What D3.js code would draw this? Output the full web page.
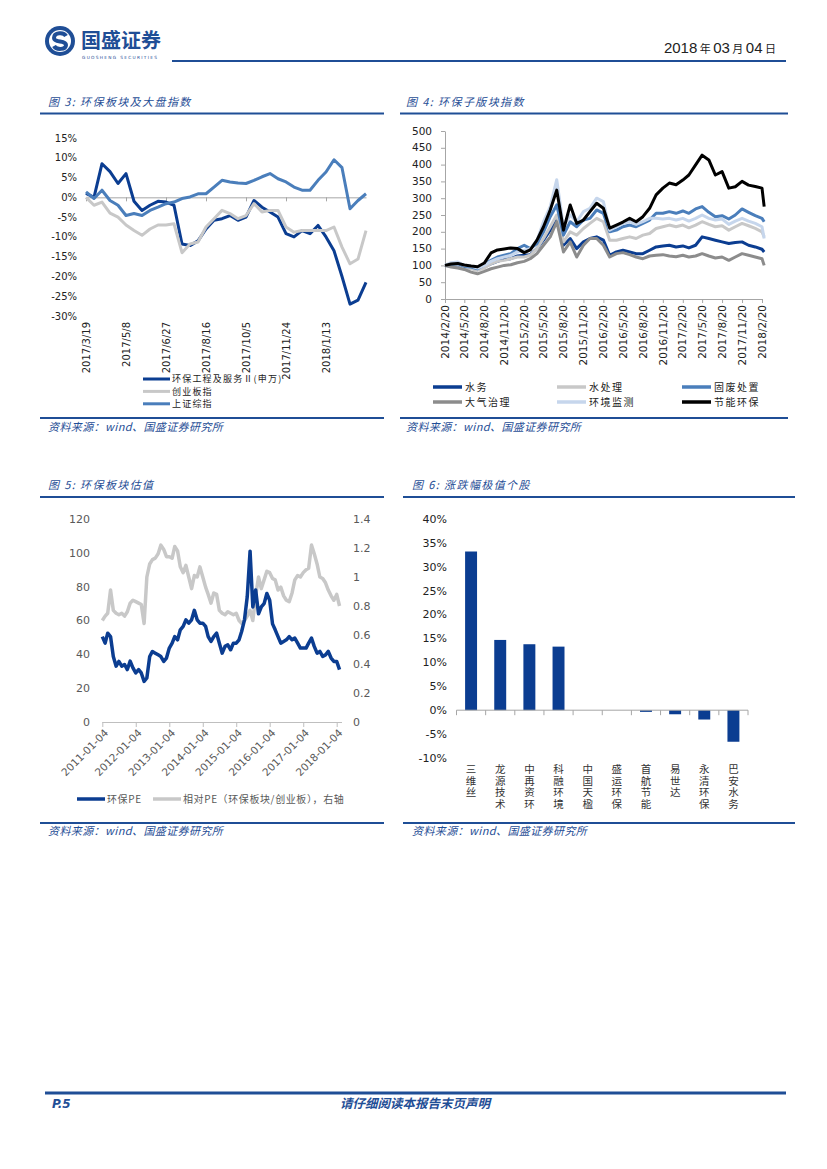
<!DOCTYPE html>
<html>
<head>
<meta charset="utf-8">
<script src="https://cdn.jsdelivr.net/npm/d3@7"></script>
<style>
body { margin: 0; background: #fff; }
</style>
</head>
<body>
<svg id="page" width="827" height="1169"></svg>
<script>
// ---------- 图3：环保板块及大盘指数（每10天一个点，起点 2017-03-19） ----------
const c3Start = "2017-03-19"
const c3Step = 10
const c3Ticks = ["2017-03-19", "2017-05-08", "2017-06-27", "2017-08-16", "2017-10-05", "2017-11-24", "2018-01-13"]
const c3YTicks = [15, 10, 5, 0, -5, -10, -15, -20, -25, -30]
const c3Names = ["环保工程及服务Ⅱ(申万)", "创业板指", "上证综指"]
const c3Env = [1, 0, 8.5, 6.5, 3.5, 6, -1, -3.3, -2, -1, -1.2, -2, -11.8, -12.2, -11, -8, -5.8, -5.4,
  -4.6, -5.8, -5, -0.8, -2.5, -3.7, -5, -9.2, -10, -8.4, -9.2, -7.1, -10, -13.5, -20, -27, -26, -21.5]
const c3Cyb = [0, -2, -1.2, -4, -5, -7, -8.4, -9.6, -8, -7, -7, -6.7, -14, -11.8, -11.3, -7.5, -5.4, -3.3,
  -4.1, -5.4, -4.6, -1.6, -3.7, -3.3, -3.3, -7.5, -8.8, -8.4, -8.4, -8.4, -8.4, -7.5, -12.6, -16.8, -15.6, -8.4]
const c3Sh = [1.4, -0.3, 1.8, -0.8, -2, -4.6, -4.1, -4.6, -3.3, -2.5, -1.6, -1.2, -0.3, 0.1, 0.9, 0.9, 2.6, 4.3,
  3.9, 3.6, 3.5, 4.3, 5.2, 6, 4.7, 3.9, 2.6, 1.8, 1.8, 4.3, 6.4, 9.5, 7.5, -2.9, -0.8, 0.9]

// ---------- 图4：环保子版块指数（月度点，最后一点 2018-03-02） ----------
const c4Start = "2014-02-20"
const c4Last = "2018-03-02"
const c4Ticks = ["2014-02-20", "2014-05-20", "2014-08-20", "2014-11-20", "2015-02-20", "2015-05-20", "2015-08-20",
  "2015-11-20", "2016-02-20", "2016-05-20", "2016-08-20", "2016-11-20", "2017-02-20", "2017-05-20", "2017-08-20",
  "2017-11-20", "2018-02-20"]
const c4YTicks = [0, 50, 100, 150, 200, 250, 300, 350, 400, 450, 500]
const c4Names = ["水务", "水处理", "固废处置", "大气治理", "环境监测", "节能环保"]
const c4Water = [100, 98, 102, 95, 92, 88, 95, 105, 112, 118, 120, 128, 130, 132, 150, 175, 205, 235, 160, 180,
  150, 170, 180, 185, 175, 130, 140, 145, 140, 135, 135, 145, 155, 158, 160, 155, 158, 152, 160, 185,
  180, 175, 170, 165, 168, 170, 160, 155, 148, 140]
const c4Treat = [100, 100, 103, 95, 90, 85, 92, 105, 112, 115, 120, 125, 125, 130, 150, 180, 215, 250, 170, 200,
  190, 210, 225, 240, 230, 175, 175, 180, 185, 180, 190, 195, 210, 215, 220, 215, 220, 212, 220, 230,
  222, 215, 218, 205, 215, 225, 218, 210, 200, 185]
const c4Solid = [100, 103, 105, 97, 95, 90, 102, 115, 125, 130, 135, 150, 160, 150, 165, 200, 245, 280, 190, 230,
  215, 235, 240, 265, 255, 200, 205, 215, 220, 215, 225, 235, 255, 255, 260, 255, 262, 255, 268, 275,
  258, 245, 248, 238, 250, 268, 258, 248, 240, 230]
const c4Air = [100, 95, 92, 88, 80, 75, 82, 90, 95, 100, 102, 108, 112, 120, 135, 160, 185, 230, 140, 170,
  125, 160, 180, 180, 160, 125, 135, 138, 132, 125, 120, 128, 130, 132, 128, 126, 130, 125, 128, 135,
  128, 122, 125, 115, 125, 135, 130, 125, 120, 100]
const c4Monitor = [100, 108, 110, 100, 98, 92, 100, 112, 120, 125, 130, 140, 145, 150, 175, 230, 275, 355, 215, 250,
  230, 260, 270, 300, 290, 205, 215, 225, 230, 222, 230, 240, 240, 238, 240, 235, 240, 232, 240, 250,
  240, 235, 238, 222, 232, 240, 232, 225, 215, 180]
const c4Energy = [100, 104, 106, 101, 98, 96, 107, 137, 146, 149, 152, 150, 138, 146, 175, 215, 265, 324, 205, 280,
  225, 235, 260, 285, 270, 211, 220, 229, 240, 230, 245, 270, 310, 330, 345, 340, 354, 369, 399, 428,
  414, 369, 379, 330, 334, 350, 339, 335, 330, 275]

// ---------- 图5：环保板块估值（月度点，起点 2011-01-04） ----------
const c5Start = "2011-01-04"
const c5Ticks = ["2011-01-04", "2012-01-04", "2013-01-04", "2014-01-04", "2015-01-04", "2016-01-04", "2017-01-04", "2018-01-04"]
const c5LeftTicks = [0, 20, 40, 60, 80, 100, 120]
const c5RightTicks = [0, 0.2, 0.4, 0.6, 0.8, 1, 1.2, 1.4]
const c5Names = ["环保PE", "相对PE（环保板块/创业板），右轴"]
const c5PE = [50.5, 46.6, 52.5, 50.5, 38.7, 33, 35.8, 33, 34, 31, 36, 32,
  29, 31, 29, 24, 26, 38.7, 41.7, 40.7, 39.7, 38.7, 35.8, 37.8,
  43.7, 46.6, 50.5, 48.6, 54.5, 56.5, 60.4, 58.4, 60.4, 66, 60.4, 58.4,
  58.4, 56.5, 50.5, 47.6, 50.5, 52.5, 46.6, 40.7, 44.7, 45.6, 42.7, 46.6,
  46.6, 48.6, 53.5, 60.4, 74, 101, 68, 78, 64, 68, 70, 76,
  72, 58, 54.5, 50.5, 46.6, 47.6, 48.6, 50.5, 48.6, 49.6, 46.6, 43.7,
  43.7, 43.7, 46.6, 49.6, 44.7, 40.7, 41.7, 38.8, 39.7, 41.7, 37.8, 35.8,
  35.8, 31]
const c5Rel = [0.70, 0.73, 0.75, 0.91, 0.77, 0.75, 0.74, 0.75, 0.73, 0.76, 0.82, 0.84,
  0.83, 0.82, 0.81, 0.68, 1.0, 1.09, 1.12, 1.13, 1.16, 1.22, 1.19, 1.14,
  1.14, 1.13, 1.21, 1.18, 1.07, 1.03, 1.08, 1.0, 0.92, 1.01, 1.0, 1.07,
  1.0, 0.93, 0.88, 0.82, 0.89, 0.88, 0.77, 0.75, 0.74, 0.76, 0.75, 0.74,
  0.75, 0.70, 0.68, 0.70, 0.73, 0.77, 0.70, 0.87, 1.0, 0.92, 0.98, 1.04,
  1.03, 0.99, 0.98, 0.91, 0.93, 0.87, 0.84, 0.83, 0.89, 0.98, 1.01, 1.0,
  1.03, 1.05, 1.06, 1.22, 1.16, 1.09, 1.0, 0.99, 0.96, 0.91, 0.87, 0.84,
  0.88, 0.80]

// ---------- 图6：涨跌幅极值个股 ----------
const c6Names = ["三维丝", "龙源技术", "中再资环", "科融环境", "中国天楹", "盛运环保", "首航节能", "易世达", "永清环保", "巴安水务"]
const c6Values = [33.2, 14.7, 13.8, 13.3, 0, 0, -0.35, -0.85, -1.95, -6.6]
const c6Ticks = [40, 35, 30, 25, 20, 15, 10, 5, 0, -5, -10]

// ---------- 样式 ----------
const DARK = "#0b3d91", MID = "#4a7ebb", LIGHT = "#c8c8c8", GREY = "#8c8c8c", PALE = "#c6d6ec", BLACK = "#000"
const RULE = "#1f4e96"
const CJK = "'Noto Sans CJK SC', sans-serif"
const NUM = "'DejaVu Sans', Verdana, sans-serif"
const parse = d3.timeParse("%Y-%m-%d")
const fmtSlash = d3.timeFormat("%Y/%-m/%-d")
const fmtDash = d3.timeFormat("%Y-%m-%d")

const svg = d3.select("#page")
svg.append("rect").attr("width", 827).attr("height", 1169).attr("fill", "#fff")

// 页眉
const logo = svg.append("g").attr("transform", "translate(60,41)")
logo.append("circle").attr("r", 15).attr("fill", RULE)
logo.append("circle").attr("r", 11).attr("fill", "#fff")
logo.append("path")
  .attr("d", "M6,-5 C4,-9 -6,-9 -6,-3 C-6,2 6,-1 6,4 C6,9 -4,9 -6,5")
  .attr("fill", "none").attr("stroke", RULE).attr("stroke-width", 4)
svg.append("text").attr("x", 81).attr("y", 48).attr("font-family", CJK).attr("font-weight", 700)
  .attr("font-size", 20).attr("fill", RULE).text("国盛证券")
svg.append("text").attr("x", 82).attr("y", 58.5).attr("font-family", NUM).attr("font-size", 4.3)
  .attr("letter-spacing", 1.3).attr("fill", RULE).text("GUOSHENG SECURITIES")
svg.append("line").attr("x1", 172).attr("x2", 786).attr("y1", 61).attr("y2", 61)
  .attr("stroke", RULE).attr("stroke-width", 2)

const dateText = svg.append("text").attr("x", 776).attr("y", 53).attr("text-anchor", "end").attr("fill", "#222")
;[["2018", 1], ["\u00a0年\u00a0", 0], ["03", 1], ["\u00a0月\u00a0", 0], ["04", 1], ["\u00a0日", 0]].forEach(([t, isNum]) => {
  dateText.append("tspan")
    .attr("font-family", isNum ? "'Liberation Sans Narrow','Liberation Sans',sans-serif" : CJK)
    .attr("font-size", isNum ? 15 : 11).text(t)
})

// 页脚
svg.append("line").attr("x1", 45).attr("x2", 786).attr("y1", 1093).attr("y2", 1093)
  .attr("stroke", RULE).attr("stroke-width", 3)
svg.append("text").attr("x", 52).attr("y", 1108).attr("font-family", NUM).attr("font-weight", 700)
  .attr("font-style", "italic").attr("font-size", 12).attr("fill", RULE).text("P.5")
svg.append("text").attr("x", 415).attr("y", 1108).attr("text-anchor", "middle").attr("font-family", CJK)
  .attr("font-weight", 700).attr("font-style", "italic").attr("font-size", 12.5).attr("fill", RULE)
  .text("请仔细阅读本报告末页声明")

// 每个图的标题、横线与资料来源
function frame(x0, x1, tx, title, yTitle, yTop, yBot, ySrc) {
  svg.append("text").attr("x", tx).attr("y", yTitle).attr("font-family", CJK).attr("font-style", "italic")
    .attr("font-size", 11).attr("letter-spacing", 1.4).attr("fill", RULE).text(title)
  ;[yTop, yBot].forEach(yy => {
    svg.append("line").attr("x1", x0).attr("x2", x1).attr("y1", yy).attr("y2", yy)
      .attr("stroke", RULE).attr("stroke-width", 2)
  })
  svg.append("text").attr("x", tx).attr("y", ySrc).attr("font-family", CJK).attr("font-style", "italic")
    .attr("font-size", 11).attr("letter-spacing", 0.4).attr("fill", RULE).text("资料来源：wind、国盛证券研究所")
}
frame(40, 384, 48, "图 3:\u00a0环保板块及大盘指数", 106, 113.5, 418, 431)
frame(400, 788, 406, "图 4:\u00a0环保子版块指数", 106, 113.5, 418, 431)
frame(40, 384, 48, "图 5:\u00a0环保板块估值", 489, 497, 823, 835)
frame(403, 795, 412, "图 6:\u00a0涨跌幅极值个股", 489, 497, 823, 835)

function addLine(g, dates, values, x, y, color, w) {
  const line = d3.line().x((d, i) => x(dates[i])).y(d => y(d))
  g.append("path").datum(values).attr("d", line).attr("fill", "none")
    .attr("stroke", color).attr("stroke-width", w).attr("stroke-linejoin", "round")
}

function styleAxis(a, color) {
  a.selectAll("path,line").attr("stroke", color)
}

// ================= 图3 =================
{
  const g = svg.append("g")
  const t0 = parse(c3Start)
  const dates = c3Env.map((v, i) => d3.timeDay.offset(t0, i * c3Step))
  const x = d3.scaleTime().domain([t0, d3.timeDay.offset(t0, 350)]).range([86, 366])
  const y = d3.scaleLinear().domain([-30, 15]).range([316, 138])

  g.selectAll(".yl").data(c3YTicks).join("text")
    .attr("x", 77).attr("y", d => y(d)).attr("dy", "0.35em").attr("text-anchor", "end")
    .attr("font-family", NUM).attr("font-size", 10).attr("fill", "#222").text(d => d + "%")

  const ax = g.append("g").attr("transform", `translate(0,${y(0)})`)
    .call(d3.axisBottom(x).tickValues(c3Ticks.map(parse)).tickSize(4).tickSizeOuter(0).tickFormat(""))
  styleAxis(ax, "#a6a6a6")

  g.selectAll(".xl").data(c3Ticks).join("text")
    .attr("transform", d => `translate(${x(parse(d))},322) rotate(-90)`)
    .attr("text-anchor", "end").attr("dy", "0.35em")
    .attr("font-family", NUM).attr("font-size", 10).attr("fill", "#222").text(d => fmtSlash(parse(d)))

  const series = [c3Env, c3Cyb, c3Sh]
  const colors = [DARK, LIGHT, MID]
  series.forEach((s, k) => addLine(g, dates, s, x, y, colors[k], 3))

  c3Names.forEach((n, k) => {
    const yy = 379 + k * 12.4
    g.append("line").attr("x1", 143).attr("x2", 170).attr("y1", yy).attr("y2", yy)
      .attr("stroke", colors[k]).attr("stroke-width", 3)
    g.append("text").attr("x", 172).attr("y", yy).attr("dy", "0.35em").attr("font-family", CJK)
      .attr("font-size", 9).attr("letter-spacing", 1.2).attr("fill", "#222").text(n)
  })
}

// ================= 图4 =================
{
  const g = svg.append("g")
  const t0 = parse(c4Start)
  const dates = c4Water.map((v, i) => i < c4Water.length - 1 ? d3.timeMonth.offset(t0, i) : parse(c4Last))
  const x = d3.scaleTime().domain([t0, parse("2018-02-20")]).range([445, 762])
  const y = d3.scaleLinear().domain([0, 500]).range([299, 131])

  const ay = g.append("g").attr("transform", "translate(445,0)")
    .call(d3.axisLeft(y).tickValues(c4YTicks).tickSize(4).tickSizeOuter(0).tickFormat(""))
  styleAxis(ay, "#a6a6a6")
  const ax = g.append("g").attr("transform", "translate(0,299)")
    .call(d3.axisBottom(x).tickValues(c4Ticks.map(parse)).tickSize(4).tickSizeOuter(0).tickFormat(""))
  styleAxis(ax, "#a6a6a6")

  g.selectAll(".yl").data(c4YTicks).join("text")
    .attr("x", 432).attr("y", d => y(d)).attr("dy", "0.35em").attr("text-anchor", "end")
    .attr("font-family", NUM).attr("font-size", 10.5).attr("fill", "#222").text(d => d)
  g.selectAll(".xl").data(c4Ticks).join("text")
    .attr("transform", d => `translate(${x(parse(d))},305) rotate(-90)`)
    .attr("text-anchor", "end").attr("dy", "0.35em")
    .attr("font-family", NUM).attr("font-size", 10.5).attr("fill", "#222").text(d => fmtSlash(parse(d)))

  const series = [c4Water, c4Treat, c4Solid, c4Air, c4Monitor, c4Energy]
  const colors = [DARK, LIGHT, MID, GREY, PALE, BLACK]
  series.forEach((s, k) => addLine(g, dates, s, x, y, colors[k], 3))

  const colX = [433, 557, 682]
  c4Names.forEach((n, k) => {
    const cx = colX[k % 3], yy = 387 + Math.floor(k / 3) * 15
    g.append("line").attr("x1", cx).attr("x2", cx + 29).attr("y1", yy).attr("y2", yy)
      .attr("stroke", colors[k]).attr("stroke-width", 3.5)
    g.append("text").attr("x", cx + 32).attr("y", yy).attr("dy", "0.35em").attr("font-family", CJK)
      .attr("font-size", 10).attr("letter-spacing", 1.5).attr("fill", "#222").text(n)
  })
}

// ================= 图5 =================
{
  const g = svg.append("g")
  const t0 = parse(c5Start)
  const dates = c5PE.map((v, i) => d3.timeMonth.offset(t0, i))
  const x = d3.scaleTime().domain([t0, parse("2018-01-04")]).range([102.3, 336.7])
  const yL = d3.scaleLinear().domain([0, 120]).range([722, 519])
  const yR = d3.scaleLinear().domain([0, 1.4]).range([722, 519])

  g.selectAll(".yl").data(c5LeftTicks).join("text")
    .attr("x", 90).attr("y", d => yL(d)).attr("dy", "0.35em").attr("text-anchor", "end")
    .attr("font-family", NUM).attr("font-size", 11).attr("fill", "#595959").text(d => d)
  g.selectAll(".yr").data(c5RightTicks).join("text")
    .attr("x", 353).attr("y", d => yR(d)).attr("dy", "0.35em")
    .attr("font-family", NUM).attr("font-size", 11).attr("fill", "#595959").text(d => String(+d.toFixed(1)))

  const ax = g.append("g").attr("transform", "translate(0,722)")
    .call(d3.axisBottom(x).tickValues(c5Ticks.map(parse)).tickSize(5).tickSizeOuter(0).tickFormat(""))
  ax.select(".domain").attr("d", "M102.3,0.5H342")
  styleAxis(ax, "#bfbfbf")

  g.selectAll(".xl").data(c5Ticks).join("text")
    .attr("transform", d => `translate(${x(parse(d)) + 4},731) rotate(-45)`)
    .attr("text-anchor", "end").attr("dy", "0.35em")
    .attr("font-family", NUM).attr("font-size", 10.5).attr("fill", "#595959").text(d => fmtDash(parse(d)))

  addLine(g, dates, c5Rel, x, yR, LIGHT, 3.5)
  addLine(g, dates, c5PE, x, yL, DARK, 3.5)

  const legend = [[77, DARK], [153, LIGHT]]
  c5Names.forEach((n, k) => {
    const lx = legend[k][0]
    g.append("line").attr("x1", lx).attr("x2", lx + 28).attr("y1", 799).attr("y2", 799)
      .attr("stroke", legend[k][1]).attr("stroke-width", 3.5)
    g.append("text").attr("x", lx + 30).attr("y", 799).attr("dy", "0.35em").attr("font-family", CJK)
      .attr("font-size", 10).attr("letter-spacing", 0.6).attr("fill", "#595959").text(n)
  })
}

// ================= 图6 =================
{
  const g = svg.append("g")
  const x = d3.scaleBand().domain(c6Names).range([456.5, 748]).paddingInner(0.59).paddingOuter(0.295)
  const y = d3.scaleLinear().domain([-10, 40]).range([758, 519])

  g.selectAll(".yl").data(c6Ticks).join("text")
    .attr("x", 447).attr("y", d => y(d)).attr("dy", "0.35em").attr("text-anchor", "end")
    .attr("font-family", NUM).attr("font-size", 11).attr("fill", "#222").text(d => d + "%")

  g.selectAll(".bar").data(c6Values).join("rect")
    .attr("x", (d, i) => x(c6Names[i])).attr("width", x.bandwidth())
    .attr("y", d => y(Math.max(0, d))).attr("height", d => Math.abs(y(d) - y(0)))
    .attr("fill", DARK)

  // 零轴与类别分隔刻度
  const step = x.step()
  const bounds = d3.range(c6Names.length + 1).map(i => x.range()[0] + i * step)
  g.append("line").attr("x1", bounds[0]).attr("x2", bounds[bounds.length - 1])
    .attr("y1", y(0)).attr("y2", y(0)).attr("stroke", "#a6a6a6")
  g.selectAll(".tk").data(bounds).join("line")
    .attr("x1", d => d).attr("x2", d => d).attr("y1", y(0)).attr("y2", y(0) + 5).attr("stroke", "#a6a6a6")

  // 竖排类别名
  g.selectAll(".cl").data(c6Names).join("text")
    .attr("x", d => x(d) + x.bandwidth() / 2).attr("y", 764)
    .attr("writing-mode", "tb").attr("letter-spacing", 1)
    .attr("font-family", CJK).attr("font-size", 10.5).attr("fill", "#333").text(d => d)
}
</script>
</body>
</html>
